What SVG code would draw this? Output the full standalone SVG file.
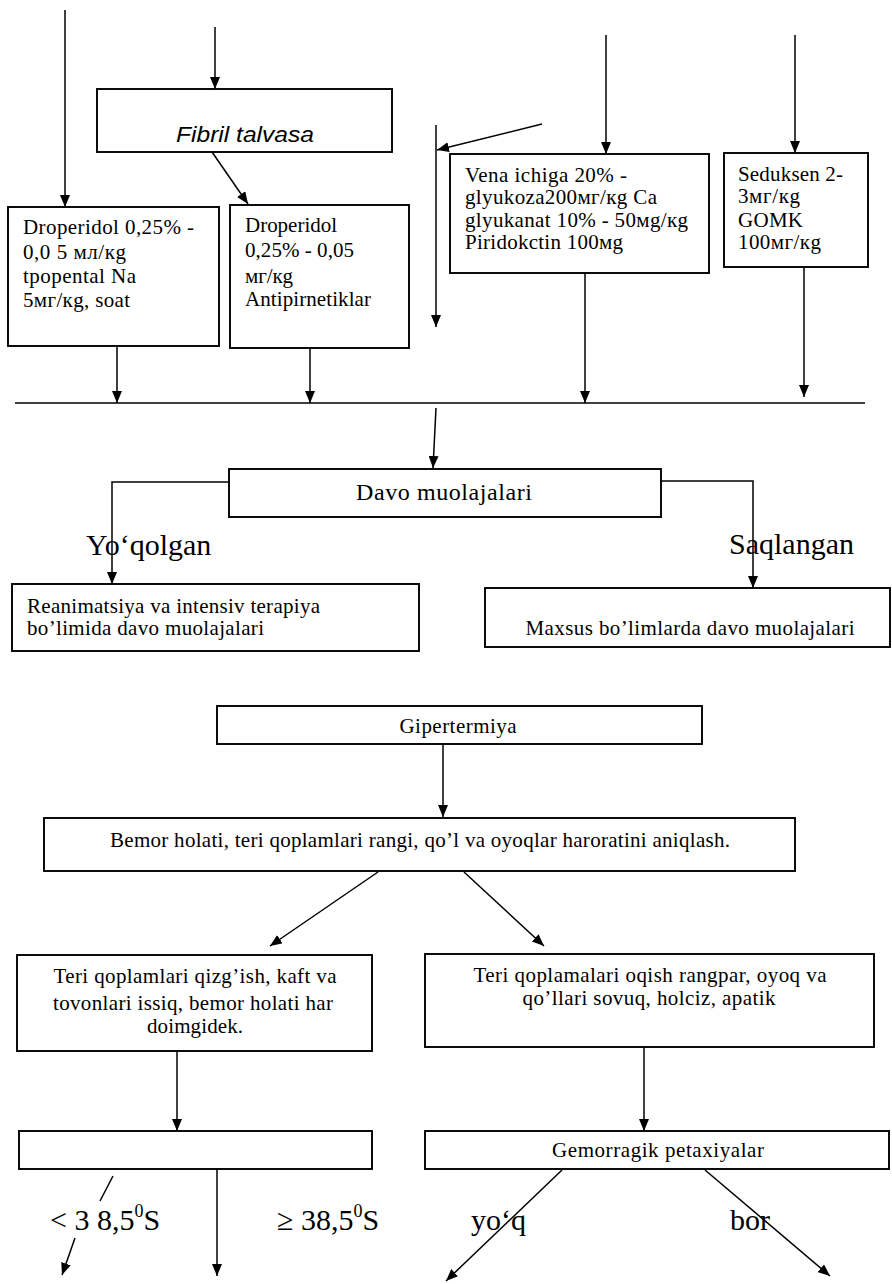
<svg xmlns="http://www.w3.org/2000/svg" width="892" height="1284" viewBox="0 0 892 1284">
<style>
.box{fill:#fff;stroke:#000;stroke-width:1.9}
.ln{fill:none;stroke:#000;stroke-width:1.5}
.ar{fill:none;stroke:#000;stroke-width:1.5;marker-end:url(#ah)}
.t{font-family:"Liberation Serif","Times New Roman",serif;font-size:21px;fill:#000}
.big{font-family:"Liberation Serif","Times New Roman",serif;font-size:30px;fill:#000}
.it{font-family:"Liberation Sans",Arial,sans-serif;font-style:italic;font-size:22px;fill:#000}
.c{text-anchor:middle}
</style>
<defs>
<marker id="ah" markerUnits="userSpaceOnUse" markerWidth="12" markerHeight="10" refX="12" refY="5" orient="auto">
<path d="M0,0 L12,5 L0,10 z" fill="#000"/>
</marker>
</defs>
<rect width="892" height="1284" fill="#fff"/>

<g id="connectors">
<line class="ar" x1="65" y1="10" x2="65" y2="207"/>
<line class="ar" x1="215" y1="27" x2="215" y2="89"/>
<line class="ar" x1="212" y1="152" x2="248" y2="204"/>
<line class="ar" x1="436" y1="125" x2="436" y2="327"/>
<line class="ar" x1="542" y1="124" x2="437" y2="150"/>
<line class="ar" x1="606" y1="35" x2="606" y2="154"/>
<line class="ar" x1="795" y1="35" x2="795" y2="153"/>
<line class="ar" x1="117" y1="346" x2="117" y2="403"/>
<line class="ar" x1="310" y1="348" x2="310" y2="403"/>
<line class="ar" x1="585" y1="273" x2="585" y2="403"/>
<line class="ar" x1="804" y1="267" x2="804" y2="397"/>
<line class="ln" x1="15" y1="403" x2="865" y2="403"/>
<line class="ar" x1="436" y1="408" x2="433" y2="468"/>
<polyline class="ar" points="229,482 112,482 112,584"/>
<polyline class="ar" points="661,481 753,481 753,588"/>
<line class="ar" x1="443" y1="745" x2="443" y2="817"/>
<line class="ar" x1="378" y1="872" x2="270" y2="946"/>
<line class="ar" x1="464" y1="872" x2="544" y2="946"/>
<line class="ar" x1="177" y1="1051" x2="177" y2="1131"/>
<line class="ar" x1="644" y1="1047" x2="644" y2="1131"/>
<line class="ln" x1="113" y1="1176" x2="100" y2="1201"/>
<line class="ar" x1="75" y1="1238" x2="62" y2="1275"/>
<line class="ar" x1="217" y1="1169" x2="217" y2="1276"/>
<line class="ar" x1="562" y1="1170" x2="446" y2="1281"/>
<line class="ar" x1="705" y1="1170" x2="830" y2="1276"/>
</g>

<g id="fibril">
<rect class="box" x="97" y="89" width="295" height="63"/>
<text class="it c" x="245" y="142" textLength="138" lengthAdjust="spacingAndGlyphs">Fibril talvasa</text>
</g>

<g id="droperidol1">
<rect class="box" x="8" y="207" width="211" height="139"/>
<text class="t" x="23" y="234" textLength="171" lengthAdjust="spacing">Droperidol 0,25% -</text>
<text class="t" x="23" y="259" textLength="103" lengthAdjust="spacing">0,0 5 мл/кg</text>
<text class="t" x="23" y="283" textLength="113" lengthAdjust="spacing">tpopental Na</text>
<text class="t" x="23" y="307" textLength="107" lengthAdjust="spacing">5мг/кg, soat</text>
</g>

<g id="droperidol2">
<rect class="box" x="230" y="205" width="179" height="143"/>
<text class="t" x="245" y="232" textLength="92" lengthAdjust="spacing">Droperidol</text>
<text class="t" x="245" y="257" textLength="109" lengthAdjust="spacing">0,25% - 0,05</text>
<text class="t" x="245" y="283" textLength="48" lengthAdjust="spacing">мг/кg</text>
<text class="t" x="245" y="306" textLength="126" lengthAdjust="spacing">Antipirnetiklar</text>
</g>

<g id="vena">
<rect class="box" x="450" y="154" width="259" height="119"/>
<text class="t" x="465" y="182" textLength="162" lengthAdjust="spacing">Vena ichiga 20% -</text>
<text class="t" x="465" y="204" textLength="192" lengthAdjust="spacing">glyukoza200мг/кg Ca</text>
<text class="t" x="465" y="227" textLength="223" lengthAdjust="spacing">glyukanat 10% - 50мg/кg</text>
<text class="t" x="465" y="249" textLength="158" lengthAdjust="spacing">Piridokctin 100мg</text>
</g>

<g id="seduksen">
<rect class="box" x="724" y="153" width="144" height="114"/>
<text class="t" x="738" y="181" textLength="105" lengthAdjust="spacing">Seduksen 2-</text>
<text class="t" x="738" y="203" textLength="62" lengthAdjust="spacing">3мг/кg</text>
<text class="t" x="738" y="227" textLength="65" lengthAdjust="spacing">GOMK</text>
<text class="t" x="738" y="249" textLength="83" lengthAdjust="spacing">100мг/кg</text>
</g>

<g id="davo">
<rect class="box" x="229" y="469" width="432" height="48"/>
<text class="t c" x="444" y="500" style="font-size:24px" textLength="176" lengthAdjust="spacing">Davo muolajalari</text>
</g>

<g id="labels-top">
<text class="big" x="86" y="555">Yo‘qolgan</text>
<text class="big" x="729" y="554">Saqlangan</text>
</g>

<g id="reanimatsiya">
<rect class="box" x="12" y="584" width="407" height="67"/>
<text class="t" x="27" y="613" textLength="293" lengthAdjust="spacing">Reanimatsiya va intensiv terapiya</text>
<text class="t" x="27" y="635" textLength="237" lengthAdjust="spacing">bo’limida davo muolajalari</text>
</g>

<g id="maxsus">
<rect class="box" x="485" y="588" width="405" height="59"/>
<text class="t c" x="690" y="635" textLength="329" lengthAdjust="spacing">Maxsus bo’limlarda davo muolajalari</text>
</g>

<g id="gipertermiya">
<rect class="box" x="217" y="706" width="485" height="38"/>
<text class="t c" x="458" y="733" textLength="117" lengthAdjust="spacing">Gipertermiya</text>
</g>

<g id="bemor">
<rect class="box" x="44" y="818" width="751" height="53"/>
<text class="t c" x="420" y="847" textLength="620" lengthAdjust="spacing">Bemor holati, teri qoplamlari rangi, qo’l va oyoqlar haroratini aniqlash.</text>
</g>

<g id="teri-left">
<rect class="box" x="17" y="955" width="355" height="96"/>
<text class="t c" x="195" y="983" textLength="283" lengthAdjust="spacing">Teri qoplamlari qizg’ish, kaft va</text>
<text class="t c" x="193" y="1010" textLength="280" lengthAdjust="spacing">tovonlari issiq, bemor holati har</text>
<text class="t c" x="195" y="1033" textLength="96" lengthAdjust="spacing">doimgidek.</text>
</g>

<g id="teri-right">
<rect class="box" x="425" y="954" width="449" height="93"/>
<text class="t c" x="650" y="982" textLength="353" lengthAdjust="spacing">Teri qoplamalari oqish rangpar, oyoq va</text>
<text class="t c" x="649" y="1005" textLength="253" lengthAdjust="spacing">qo’llari sovuq, holciz, apatik</text>
</g>

<g id="empty-box">
<rect class="box" x="19" y="1131" width="353" height="38"/>
</g>

<g id="gemorragik">
<rect class="box" x="425" y="1131" width="464" height="38"/>
<text class="t c" x="658" y="1157" textLength="212" lengthAdjust="spacing">Gemorragik petaxiyalar</text>
</g>

<g id="labels-bottom">
<text class="big" x="50" y="1230">&lt; 3 8,5<tspan font-size="18" dy="-13">0</tspan><tspan dy="13">S</tspan></text>
<text class="big" x="277" y="1230">≥ 38,5<tspan font-size="18" dy="-13">0</tspan><tspan dy="13">S</tspan></text>
<text class="big" x="471" y="1230">yo‘q</text>
<text class="big" x="730" y="1230">bor</text>
</g>
</svg>
